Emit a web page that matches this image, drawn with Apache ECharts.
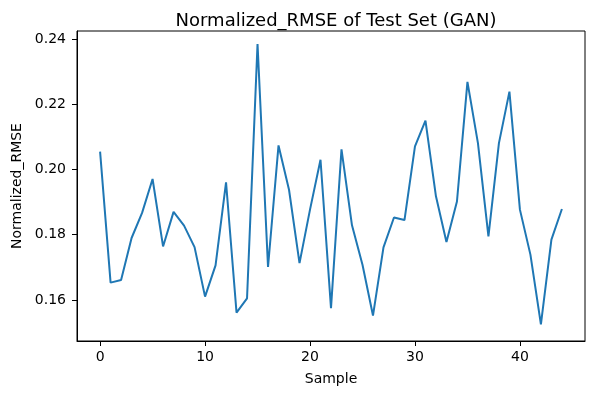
<!DOCTYPE html>
<html>
<head>
<meta charset="utf-8">
<script src="https://cdn.jsdelivr.net/npm/echarts@6/dist/echarts.min.js"></script>
<style>
  html, body { margin: 0; padding: 0; background: #fff; }
  #chart { width: 598px; height: 393px; }
</style>
</head>
<body>
<div id="chart"></div>
<script>
// values
const samples = [];
for (let i = 0; i < 45; i++) samples.push(i);
const rmse = [
  0.2055, 0.1653, 0.1661, 0.1790, 0.1867, 0.1971, 0.1764, 0.1870, 0.1828, 0.1762,
  0.1610, 0.1706, 0.1961, 0.1561, 0.1605, 0.2385, 0.1701, 0.2074, 0.1938, 0.1713,
  0.1877, 0.2030, 0.1575, 0.2062, 0.1829, 0.1708, 0.1552, 0.1761, 0.1853, 0.1845,
  0.2071, 0.2150, 0.1918, 0.1778, 0.1902, 0.2269, 0.2081, 0.1795, 0.2081, 0.2239,
  0.1877, 0.1739, 0.1525, 0.1785, 0.1879
];
// axis ranges (matplotlib adds 5% margin); ticks land on 0,10..40 and 0.16..0.24
const xRange = [-2.2, 46.2];
const yRange = [0.1474, 0.2425];

const font = 'DejaVu Sans';
const chart = echarts.init(document.getElementById('chart'));

chart.setOption({
  animation: false,
  title: {
    text: 'Normalized_RMSE of Test Set (GAN)',
    left: 331, top: 7, textAlign: 'center',
    textStyle: { fontFamily: font, fontSize: 18, fontWeight: 'normal', color: '#000' }
  },
  grid: {
    left: 77, right: 13, top: 31, bottom: 52,
    show: true, borderColor: '#000', borderWidth: 1
  },
  xAxis: {
    type: 'value',
    min: xRange[0], max: xRange[1], splitNumber: 5,
    name: 'Sample', nameLocation: 'middle', nameGap: 31,
    nameTextStyle: { fontFamily: font, fontSize: 14, color: '#000' },
    axisLine: { show: true, onZero: false, lineStyle: { color: '#000', width: 1 } },
    axisTick: { show: true, length: 5, lineStyle: { color: '#000', width: 1 } },
    axisLabel: {
      fontFamily: font, fontSize: 14, color: '#000', margin: 9,
      showMinLabel: false, showMaxLabel: false
    },
    splitLine: { show: false }
  },
  yAxis: {
    type: 'value',
    min: yRange[0], max: yRange[1], splitNumber: 5,
    name: 'Normalized_RMSE', nameLocation: 'middle', nameGap: 52,
    nameTextStyle: { fontFamily: font, fontSize: 14, color: '#000' },
    axisLine: { show: true, onZero: false, lineStyle: { color: '#000', width: 1 } },
    axisTick: { show: true, length: 5, lineStyle: { color: '#000', width: 1 } },
    axisLabel: {
      fontFamily: font, fontSize: 14, color: '#000', margin: 11,
      showMinLabel: false, showMaxLabel: false,
      formatter: v => v.toFixed(2)
    },
    splitLine: { show: false }
  },
  series: [{
    type: 'line',
    data: samples.map((s, i) => [s, rmse[i]]),
    showSymbol: false,
    lineStyle: { color: '#1f77b4', width: 2 },
    itemStyle: { color: '#1f77b4' }
  }]
});
</script>
</body>
</html>
